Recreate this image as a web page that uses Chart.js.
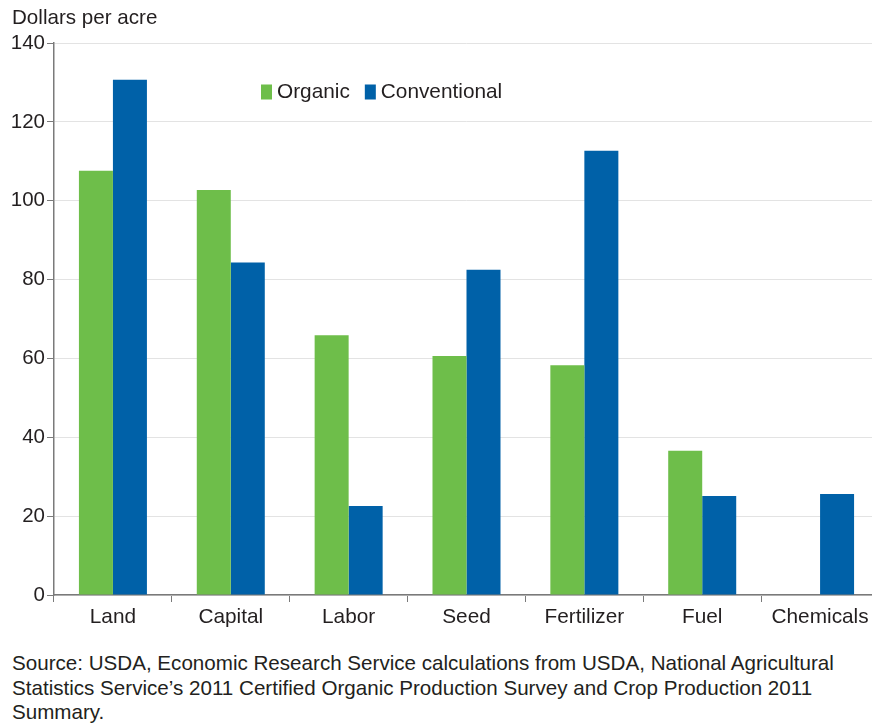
<!DOCTYPE html>
<html>
<head>
<meta charset="utf-8">
<script src="https://cdn.jsdelivr.net/npm/chart.js@4.4.1/dist/chart.umd.min.js"></script>
<style>
    html, body { margin: 0; padding: 0; background: #fff; overflow: hidden; width: 872px; height: 724px; }
    #wrap { position: absolute; left: 0; top: 0; width: 880px; height: 640px; }
    #yTitle { position: absolute; left: 12px; top: 5px; font: 20.6px "Liberation Sans", Arial, sans-serif; color: #231f20; }
    #source { position: absolute; left: 12px; top: 651px; font: 20.6px/24.5px "Liberation Sans", Arial, sans-serif; color: #231f20; white-space: nowrap; }
</style>
</head>
<body>
<div id="wrap"><canvas id="costChart" width="880" height="640"></canvas></div>
<div id="yTitle">Dollars per acre</div>
<div id="source">Source: USDA, Economic Research Service calculations from USDA, National Agricultural<br>Statistics Service’s 2011 Certified Organic Production Survey and Crop Production 2011<br>Summary.</div>
<script>
// data
const categories = ["Land", "Capital", "Labor", "Seed", "Fertilizer", "Fuel", "Chemicals"];
const organic = [107.6, 102.7, 65.9, 60.6, 58.3, 36.6, 0];
const conventional = [130.7, 84.3, 22.6, 82.5, 112.7, 25.1, 25.6];
const yTicks = { min: 0, max: 140, step: 20 };

const FONT = "'Liberation Sans', Arial, sans-serif";
const TEXT = "#231f20";
const AXIS = "#7a7a7a";

// legend drawn inside the plot area, like the original
const legendInside = {
    id: "legendInside",
    afterDraw(chart) {
        const ctx = chart.ctx;
        const area = chart.chartArea;
        let x = area.left + 207;
        const y = area.top + 49.5;
        ctx.save();
        ctx.font = "20.8px " + FONT;
        ctx.textBaseline = "middle";
        ctx.textAlign = "left";
        chart.data.datasets.forEach(ds => {
            ctx.fillStyle = ds.backgroundColor;
            ctx.fillRect(x, y - 8, 11, 15);
            ctx.fillStyle = TEXT;
            ctx.fillText(ds.label, x + 16, y);
            x += 16 + ctx.measureText(ds.label).width + 15;
        });
        ctx.restore();
    }
};

new Chart(document.getElementById("costChart"), {
    type: "bar",
    data: {
        labels: categories,
        datasets: [
            { label: "Organic", data: organic, backgroundColor: "#6ebe4a" },
            { label: "Conventional", data: conventional, backgroundColor: "#0061a8" }
        ]
    },
    options: {
        responsive: false,
        animation: false,
        categoryPercentage: 0.577,
        barPercentage: 1,
        layout: { padding: { top: 43, right: 1, left: 0, bottom: 0 } },
        plugins: {
            legend: { display: false },
            tooltip: { enabled: false }
        },
        scales: {
            x: {
                grid: { display: true, drawOnChartArea: false, drawTicks: true, tickLength: 7, tickColor: AXIS, offset: true },
                border: { color: AXIS, width: 1.5 },
                ticks: { font: { family: FONT, size: 20.8 }, color: TEXT, padding: 3, maxRotation: 0, autoSkip: false },
                afterFit: s => { s.height = 45; }
            },
            y: {
                min: yTicks.min,
                max: yTicks.max,
                ticks: { stepSize: yTicks.step, font: { family: FONT, size: 20.5 }, color: TEXT, padding: 2 },
                grid: { color: "#e3e3e3", tickColor: AXIS, tickLength: 7 },
                border: { color: AXIS, width: 1.5 },
                afterFit: s => { s.width = 54; }
            }
        }
    },
    plugins: [legendInside]
});
</script>
</body>
</html>
